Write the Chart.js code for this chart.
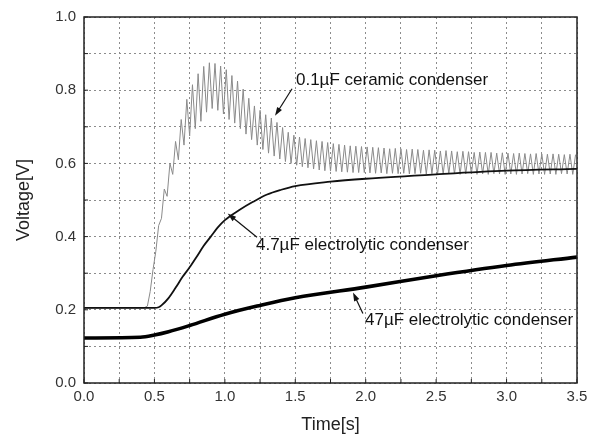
<!DOCTYPE html>
<html>
<head>
<meta charset="utf-8">
<script src="https://cdn.jsdelivr.net/npm/chart.js@4/dist/chart.umd.min.js"></script>
<style>
  html, body { margin: 0; padding: 0; background: #fff; }
  #chart { display: block; }
</style>
</head>
<body>
<canvas id="chart" width="595" height="437"></canvas>
<script>
// Data
// 0.1uF ceramic: flat lead-in, then ringing. Peaks every 0.04 s from 0.45 s,
// troughs halfway between them.
const ceramicLeadTime = [0, 0.425];
const ceramicLeadVolts = [0.205, 0.205];
const ceramicStart = 0.45;
const ceramicPeriod = 0.04;
const ceramicPeaks = [
  0.21, 0.31, 0.43, 0.53, 0.60, 0.66, 0.72, 0.775, 0.815, 0.845,
  0.865, 0.875, 0.873, 0.866, 0.856, 0.84, 0.825, 0.803, 0.778, 0.757,
  0.745, 0.733, 0.724, 0.712, 0.698, 0.685, 0.677, 0.672, 0.668, 0.665,
  0.662, 0.66, 0.657, 0.654, 0.652, 0.650, 0.648, 0.647, 0.646, 0.645,
  0.644, 0.643, 0.642, 0.640, 0.641, 0.640, 0.638, 0.639, 0.638, 0.636,
  0.637, 0.636, 0.634, 0.635, 0.634, 0.632, 0.633, 0.632, 0.630, 0.631,
  0.630, 0.630, 0.628, 0.629, 0.628, 0.627, 0.628, 0.627, 0.626, 0.627,
  0.626, 0.625, 0.626, 0.625, 0.624, 0.625, 0.624,
];
const ceramicTroughs = [
  0.25, 0.36, 0.45, 0.51, 0.57, 0.61, 0.65, 0.675, 0.695, 0.715,
  0.74, 0.75, 0.745, 0.735, 0.72, 0.71, 0.695, 0.68, 0.665, 0.65,
  0.638, 0.628, 0.62, 0.612, 0.605, 0.60, 0.595, 0.591, 0.588, 0.585,
  0.582, 0.58, 0.579, 0.578, 0.577, 0.576, 0.575, 0.575, 0.575, 0.574,
  0.573, 0.574, 0.572, 0.573, 0.572, 0.573, 0.571, 0.572, 0.573, 0.571,
  0.572, 0.570, 0.571, 0.572, 0.571, 0.570, 0.571, 0.572, 0.570, 0.571,
  0.570, 0.572, 0.571, 0.570, 0.571, 0.570, 0.571, 0.572, 0.570, 0.571,
  0.570, 0.571, 0.570, 0.572, 0.571, 0.570,
];

// 4.7uF electrolytic
const elec47uTime = [0, 0.50, 0.53, 0.55, 0.60, 0.65, 0.70, 0.75, 0.80, 0.85, 0.90, 0.95, 1.00, 1.10, 1.20, 1.30, 1.40, 1.50, 1.75, 2.00, 2.50, 3.00, 3.50];
const elec47uVolts = [0.205, 0.205, 0.207, 0.212, 0.232, 0.26, 0.29, 0.316, 0.345, 0.375, 0.40, 0.425, 0.445, 0.472, 0.495, 0.515, 0.528, 0.538, 0.55, 0.558, 0.57, 0.58, 0.585];

// 47uF electrolytic
const elec47Time = [0, 0.40, 0.50, 0.60, 0.75, 1.00, 1.25, 1.50, 2.00, 2.50, 3.00, 3.50];
const elec47Volts = [0.123, 0.125, 0.131, 0.140, 0.157, 0.188, 0.212, 0.233, 0.262, 0.293, 0.321, 0.344];

// Axis ticks
const xTickLabels = [0, 0.5, 1.0, 1.5, 2.0, 2.5, 3.0, 3.5];
const yTickLabels = [0, 0.2, 0.4, 0.6, 0.8, 1.0];

// Build point lists
function toPoints(times, volts) {
  return times.map((t, i) => ({ x: t, y: volts[i] }));
}

const ceramicPoints = toPoints(ceramicLeadTime, ceramicLeadVolts);
ceramicPeaks.forEach((v, k) => {
  const t = ceramicStart + k * ceramicPeriod;
  ceramicPoints.push({ x: t, y: v });
  if (k < ceramicTroughs.length) {
    ceramicPoints.push({ x: t + ceramicPeriod / 2, y: ceramicTroughs[k] });
  }
});

// Callouts (data coordinates)
const callouts = [
  { text: "0.1µF ceramic condenser", x: 1.505, y: 0.828, from: [1.477, 0.804], to: [1.356, 0.730] },
  { text: "4.7µF electrolytic condenser", x: 1.221, y: 0.376, from: [1.228, 0.398], to: [1.02, 0.463] },
  { text: "47µF electrolytic condenser", x: 1.995, y: 0.172, from: [1.98, 0.19], to: [1.91, 0.247] },
];

const fontFamily = "'Liberation Sans', Arial, sans-serif";

// Frame, inner ticks and callouts
const decorPlugin = {
  id: "decor",
  afterDatasetsDraw(chart) {
    const { ctx, chartArea: a, scales } = chart;
    const xs = scales.x;
    const ys = scales.y;

    ctx.save();
    ctx.strokeStyle = "#222";
    ctx.lineWidth = 1.5;
    ctx.strokeRect(a.left, a.top, a.right - a.left, a.bottom - a.top);

    ctx.lineWidth = 1;
    ctx.beginPath();
    xs.ticks.forEach((t) => {
      const px = xs.getPixelForValue(t.value);
      ctx.moveTo(px, a.bottom);
      ctx.lineTo(px, a.bottom - 4);
    });
    ys.ticks.forEach((t) => {
      const py = ys.getPixelForValue(t.value);
      ctx.moveTo(a.left, py);
      ctx.lineTo(a.left + 4, py);
    });
    ctx.stroke();

    ctx.fillStyle = "#111";
    ctx.font = "17px " + fontFamily;
    ctx.textBaseline = "middle";
    callouts.forEach((c) => {
      ctx.fillText(c.text, xs.getPixelForValue(c.x), ys.getPixelForValue(c.y));

      const x1 = xs.getPixelForValue(c.from[0]);
      const y1 = ys.getPixelForValue(c.from[1]);
      const x2 = xs.getPixelForValue(c.to[0]);
      const y2 = ys.getPixelForValue(c.to[1]);
      const ang = Math.atan2(y2 - y1, x2 - x1);
      ctx.strokeStyle = "#111";
      ctx.lineWidth = 1.2;
      ctx.beginPath();
      ctx.moveTo(x1, y1);
      ctx.lineTo(x2 - 6 * Math.cos(ang), y2 - 6 * Math.sin(ang));
      ctx.stroke();
      ctx.beginPath();
      ctx.moveTo(x2, y2);
      ctx.lineTo(x2 - 9 * Math.cos(ang - 0.32), y2 - 9 * Math.sin(ang - 0.32));
      ctx.lineTo(x2 - 9 * Math.cos(ang + 0.32), y2 - 9 * Math.sin(ang + 0.32));
      ctx.closePath();
      ctx.fill();
    });
    ctx.restore();
  },
};

new Chart(document.getElementById("chart"), {
  type: "line",
  data: {
    datasets: [
      {
        label: "0.1µF ceramic",
        data: ceramicPoints,
        borderColor: "#8a8a8a",
        borderWidth: 1,
        pointRadius: 0,
        order: 3,
      },
      {
        label: "4.7µF electrolytic",
        data: toPoints(elec47uTime, elec47uVolts),
        borderColor: "#111",
        borderWidth: 1.8,
        pointRadius: 0,
        cubicInterpolationMode: "monotone",
        order: 2,
      },
      {
        label: "47µF electrolytic",
        data: toPoints(elec47Time, elec47Volts),
        borderColor: "#000",
        borderWidth: 3.6,
        pointRadius: 0,
        cubicInterpolationMode: "monotone",
        order: 1,
      },
    ],
  },
  options: {
    responsive: false,
    animation: false,
    devicePixelRatio: 1,
    layout: { padding: { left: 0, top: 16, right: 18, bottom: 0 } },
    plugins: { legend: { display: false }, tooltip: { enabled: false } },
    scales: {
      x: {
        type: "linear",
        min: 0,
        max: 3.5,
        afterFit: (s) => { s.height = 54; },
        ticks: {
          stepSize: 0.25,
          padding: 5,
          color: "#333",
          font: { family: fontFamily, size: 15 },
          maxRotation: 0,
          autoSkip: false,
          callback: (v) => {
            const hit = xTickLabels.find((l) => Math.abs(l - v) < 1e-6);
            return hit === undefined ? "" : hit.toFixed(1);
          },
        },
        grid: { color: "#8c8c8c", lineWidth: 1, drawTicks: false },
        border: { display: false, dash: [2, 3] },
        title: {
          display: true,
          text: "Time[s]",
          color: "#222",
          font: { family: fontFamily, size: 18 },
          padding: { top: 0, bottom: 1 },
        },
      },
      y: {
        min: 0,
        max: 1,
        afterFit: (s) => { s.width = 84; },
        ticks: {
          stepSize: 0.1,
          padding: 8,
          color: "#333",
          font: { family: fontFamily, size: 15 },
          autoSkip: false,
          callback: (v) => {
            const hit = yTickLabels.find((l) => Math.abs(l - v) < 1e-6);
            return hit === undefined ? "" : hit.toFixed(1);
          },
        },
        grid: { color: "#8c8c8c", lineWidth: 1, drawTicks: false },
        border: { display: false, dash: [2, 3] },
        title: {
          display: true,
          text: "Voltage[V]",
          color: "#222",
          font: { family: fontFamily, size: 18 },
          padding: { top: 13, bottom: 0 },
        },
      },
    },
  },
  plugins: [decorPlugin],
});
</script>
</body>
</html>
